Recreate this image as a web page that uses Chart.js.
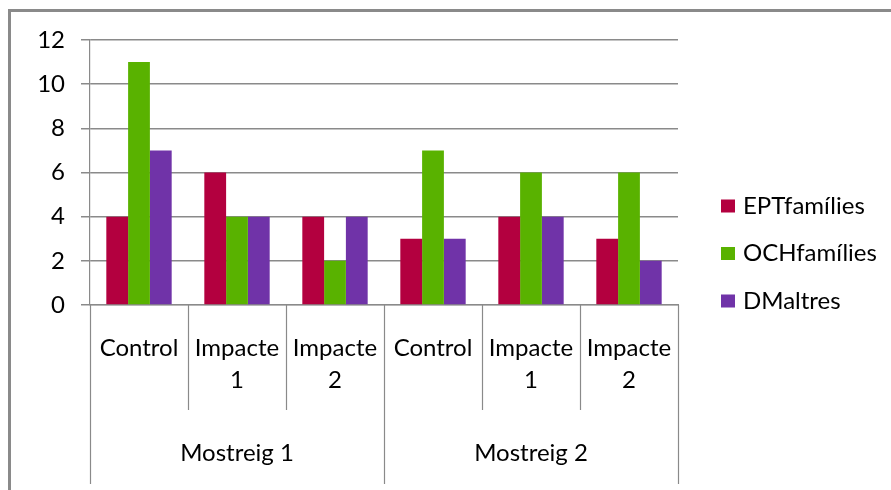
<!DOCTYPE html>
<html>
<head>
<meta charset="utf-8">
<script src="https://cdn.jsdelivr.net/npm/chart.js@4/dist/chart.umd.min.js"></script>
<style>
  html, body { margin: 0; padding: 0; background: #ffffff; }
  #wrap { width: 891px; height: 490px; }
</style>
</head>
<body>
<div id="wrap"><canvas id="chart" width="891" height="490"></canvas></div>
<script>
// Sampling campaigns (outer axis level) and sites (inner axis level)
const samplings = ["Mostreig 1", "Mostreig 2"];
const sites = [["Control"], ["Impacte", "1"], ["Impacte", "2"]];

// Number of families per site, in campaign order
const eptFamilies = [4, 6, 4, 3, 4, 3];
const ochFamilies = [11, 4, 2, 7, 6, 6];
const dmAltres    = [7, 4, 4, 3, 4, 2];

const seriesNames  = ["EPTfamílies", "OCHfamílies", "DMaltres"];
const seriesColors = ["#B3003F", "#59B200", "#7033A8"];

const yMin = 0, yMax = 12, yStep = 2;

const FONT = "Lato, 'Open Sans', sans-serif";
const FONT_SIZE = 24;
const LINE_GRAY = "#8a8a8a";

const categoryLabels = samplings.flatMap(() => sites);

// White background and the frame around the whole chart
const framePlugin = {
  id: "frame",
  beforeDraw(chart) {
    const ctx = chart.ctx;
    ctx.save();
    ctx.fillStyle = "#ffffff";
    ctx.fillRect(0, 0, chart.width, chart.height);
    ctx.strokeStyle = LINE_GRAY;
    ctx.lineWidth = 3;
    ctx.strokeRect(9.5, 10.5, chart.width + 20, chart.height + 20);
    ctx.restore();
  }
};

// Two-level category axis: separators between sites and campaigns, plus campaign names
const groupAxisPlugin = {
  id: "groupAxis",
  afterDraw(chart) {
    const x = chart.scales.x;
    const area = chart.chartArea;
    const ctx = chart.ctx;
    const n = categoryLabels.length;
    const per = sites.length;
    const half = (x.getPixelForValue(1) - x.getPixelForValue(0)) / 2;
    ctx.save();
    ctx.strokeStyle = LINE_GRAY;
    ctx.lineWidth = 1.2;
    for (let i = 0; i <= n; i++) {
      const px = i < n ? x.getPixelForValue(i) - half : x.getPixelForValue(n - 1) + half;
      const isGroupEdge = i % per === 0;
      const yEnd = isGroupEdge ? area.bottom + 179 : area.bottom + 105;
      ctx.beginPath();
      ctx.moveTo(Math.round(px) + 0.5, area.bottom);
      ctx.lineTo(Math.round(px) + 0.5, yEnd);
      ctx.stroke();
    }
    ctx.fillStyle = "#000000";
    ctx.font = FONT_SIZE + "px " + FONT;
    ctx.textAlign = "center";
    ctx.textBaseline = "middle";
    samplings.forEach((name, g) => {
      const cx = (x.getPixelForValue(g * per) + x.getPixelForValue(g * per + per - 1)) / 2;
      ctx.fillText(name, cx, area.bottom + 148);
    });
    ctx.restore();
  }
};

// Legend on the right: coloured square and series name
const sideLegendPlugin = {
  id: "sideLegend",
  afterDraw(chart) {
    const ctx = chart.ctx;
    const area = chart.chartArea;
    ctx.save();
    ctx.font = FONT_SIZE + "px " + FONT;
    ctx.textAlign = "left";
    ctx.textBaseline = "middle";
    chart.data.datasets.forEach((ds, i) => {
      const cy = 206 + i * 47.5;
      const bx = area.right + 43;
      ctx.fillStyle = ds.backgroundColor;
      ctx.fillRect(bx, cy - 6.5, 14, 13);
      ctx.fillStyle = "#000000";
      ctx.fillText(ds.label, bx + 22, cy);
    });
    ctx.restore();
  }
};

new Chart(document.getElementById("chart"), {
  type: "bar",
  data: {
    labels: categoryLabels,
    datasets: [
      { label: seriesNames[0], data: eptFamilies, backgroundColor: seriesColors[0] },
      { label: seriesNames[1], data: ochFamilies, backgroundColor: seriesColors[1] },
      { label: seriesNames[2], data: dmAltres,    backgroundColor: seriesColors[2] }
    ]
  },
  options: {
    responsive: false,
    devicePixelRatio: 1,
    animation: false,
    events: [],
    datasets: {
      bar: { categoryPercentage: 0.667, barPercentage: 1.0, borderWidth: 0 }
    },
    layout: { padding: { left: 0, top: 40, right: 213, bottom: 0 } },
    plugins: {
      legend: { display: false },
      tooltip: { enabled: false },
      title: { display: false }
    },
    scales: {
      x: {
        grid: { display: false, drawTicks: false },
        border: { display: true, color: LINE_GRAY, width: 1.2 },
        ticks: {
          autoSkip: false,
          maxRotation: 0,
          minRotation: 0,
          padding: 27,
          color: "#000000",
          font: { family: FONT, size: FONT_SIZE, lineHeight: 32 / FONT_SIZE }
        },
        afterFit(scale) { scale.height = 185; }
      },
      y: {
        min: yMin,
        max: yMax,
        ticks: {
          stepSize: yStep,
          padding: 16,
          color: "#000000",
          font: { family: FONT, size: FONT_SIZE }
        },
        grid: { color: LINE_GRAY, lineWidth: 1.5, tickLength: 9, drawTicks: true },
        border: { display: true, color: LINE_GRAY, width: 1.2 },
        afterFit(scale) { scale.width = 90; }
      }
    }
  },
  plugins: [framePlugin, groupAxisPlugin, sideLegendPlugin]
});
</script>
</body>
</html>
